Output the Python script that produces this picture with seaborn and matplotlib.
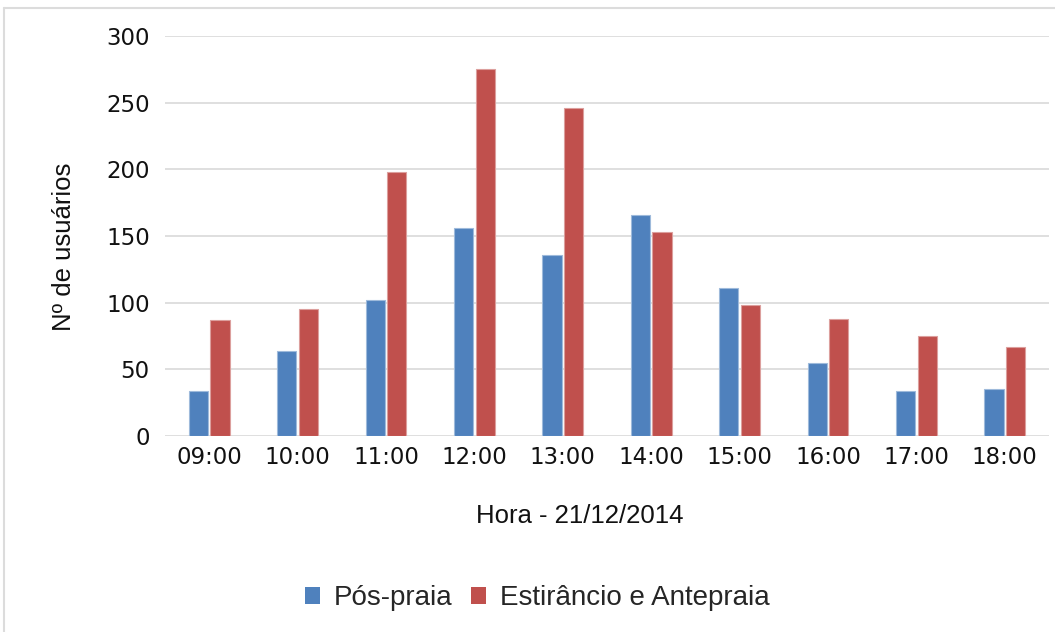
import matplotlib
matplotlib.use("Agg")
import matplotlib.pyplot as plt
import matplotlib.colors as mcolors
from matplotlib.lines import Line2D
from matplotlib.patches import Patch
import pandas as pd
import seaborn as sns

horas = ["09:00", "10:00", "11:00", "12:00", "13:00",
         "14:00", "15:00", "16:00", "17:00", "18:00"]
pos_praia = [34, 64, 102, 156, 136, 166, 111, 55, 34, 35]
estirancio = [87, 95, 198, 275, 246, 153, 98, 88, 75, 67]
series_names = ["Pós-praia", "Estirâncio e Antepraia"]
series_colors = ["#4F81BD", "#C0504D"]
y_ticks = [0, 50, 100, 150, 200, 250, 300]

df = pd.DataFrame({
    "Hora": horas * 2,
    "Usuarios": pos_praia + estirancio,
    "Zona": [series_names[0]] * len(horas) + [series_names[1]] * len(horas),
})

sns.set_theme(style="white")
plt.rcParams["font.family"] = ["Liberation Sans", "DejaVu Sans"]

W, H = 1055, 632
fig = plt.figure(figsize=(W / 100, H / 100), dpi=100)
ax = fig.add_axes([165 / W, 1 - 436 / H, (1049 - 165) / W, 400 / H])

sns.barplot(data=df, x="Hora", y="Usuarios", hue="Zona", order=horas,
            hue_order=series_names, palette=series_colors,
            width=0.49, gap=0.11, saturation=1, legend=False, ax=ax, zorder=3)

# soft, lighter outline on each bar
for p in ax.patches:
    fc = mcolors.to_rgb(p.get_facecolor())
    light = tuple(c + (1 - c) * 0.45 for c in fc)
    p.set_edgecolor(light)
    p.set_linewidth(0.8)

ax.set_xlim(-0.5, len(horas) - 0.5)
ax.set_ylim(0, 300)
ax.set_yticks(y_ticks)
ax.yaxis.grid(True, color="#d9d9d9", linewidth=1.2, zorder=0)
ax.set_axisbelow(True)
for s in ax.spines.values():
    s.set_visible(False)

ax.tick_params(axis="y", length=0, pad=11, labelsize=16.5, labelcolor="#111111")
ax.tick_params(axis="x", length=0, pad=7, labelsize=16.5, labelcolor="#111111")
for lab in ax.get_xticklabels() + ax.get_yticklabels():
    lab.set_fontfamily("DejaVu Sans")

ax.set_xlabel("Hora - 21/12/2014", fontsize=18.5, color="#111111")
ax.set_ylabel("Nº de usuários", fontsize=18.5, color="#111111")
ax.xaxis.set_label_coords((580 - 165) / 884, (436 - 516) / 400)
ax.yaxis.set_label_coords((64 - 165) / 884, (436 - 247) / 400)
ax.xaxis.label.set_va("center")
ax.yaxis.label.set_va("center")

handles = [Patch(facecolor=c, edgecolor="none") for c in series_colors]
fig.legend(handles, series_names, loc="center",
           bbox_to_anchor=(537 / W, 1 - 598 / H), ncol=2, frameon=False,
           fontsize=20, handlelength=0.55, handleheight=0.55,
           handletextpad=0.5, columnspacing=0.65, borderaxespad=0)

# thin frame along the top and left edges of the chart area
border = "#dcdcdc"
fig.add_artist(Line2D([4 / W, 1], [1 - 8 / H, 1 - 8 / H], color=border,
                      linewidth=1.5, transform=fig.transFigure))
fig.add_artist(Line2D([4 / W, 4 / W], [0, 1 - 8 / H], color=border,
                      linewidth=1.5, transform=fig.transFigure))

fig.savefig("out.png", dpi=100, facecolor="white")
